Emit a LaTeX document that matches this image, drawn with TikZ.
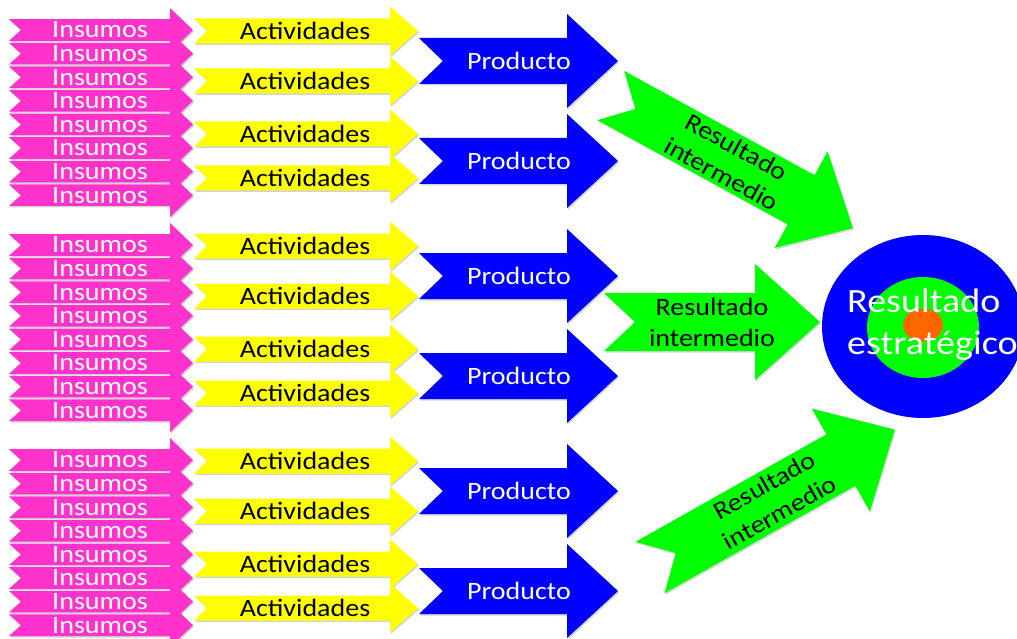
\documentclass[tikz,border=0pt]{standalone}
\usepackage{fontspec}
\setmainfont{Carlito}
\usetikzlibrary{shadows}

\definecolor{rosa}{RGB}{255,51,204}
\definecolor{amarillo}{RGB}{255,255,0}
\definecolor{azul}{RGB}{0,0,255}
\definecolor{verde}{RGB}{0,255,0}
\definecolor{naranja}{RGB}{255,102,0}

% estilo, x izquierda, y centro, x cabeza, x punta, medio cuerpo, media cabeza, muesca
\newcommand{\flecha}[8]{%
	\fill[#1] (#2,#3-#6) -- (#4,#3-#6) -- (#4,#3-#7) -- (#5,#3)
	-- (#4,#3+#7) -- (#4,#3+#6) -- (#2,#3+#6) -- (#2+#8,#3) -- cycle;}

\begin{document}
\begin{tikzpicture}[x=1pt, y=-1pt,
	sombra/.style={drop shadow={shadow xshift=1pt, shadow yshift=-1.5pt, opacity=.35}},
	texto/.style={inner sep=0pt, font=\fontsize{25}{31}\selectfont, xscale=1.12, transform shape},
	grande/.style={inner sep=0pt, font=\fontsize{34}{42}\selectfont, xscale=1.12, transform shape}]
	
	\useasboundingbox (0,0) rectangle (1017,639);
	\clip (0,0) rectangle (1017,639);
	
	% Insumos, actividades y productos
	\foreach \g in {0,1,2}{
		\begin{scope}[shift={(0,215*\g)}]
			\foreach \i in {0,...,7}{
				\pgfmathsetmacro{\yy}{30+23.6*\i}
				\flecha{rosa, sombra}{9}{\yy}{170}{193}{10.8}{22}{12}
				\node[texto, white] (ins-\g-\i) at (100,\yy) {Insumos};
			}
			\foreach \yy [count=\k] in {31,81,134,178}{
				\flecha{amarillo, sombra}{194}{\yy}{390}{418}{12.5}{24.5}{13}
				\node[texto] (act-\g-\k) at (305,\yy) {Actividades};
			}
			\foreach \yy [count=\k] in {61,161}{
				\flecha{azul, sombra}{419}{\yy}{567}{618}{23}{47}{24}
				\node[texto, white] (prod-\g-\k) at (519,\yy) {Producto};
			}
		\end{scope}
	}
	
	% Resultados intermedios
	\begin{scope}[shift={(610.8,95.5)}, rotate=-28.7]
		\flecha{verde, sombra}{0}{0}{217}{276}{28}{55}{28}
		\node[texto, align=center] (ri-1) at (135,0) {Resultado\\intermedio};
	\end{scope}
	
	\flecha{verde, sombra}{604}{322}{755}{820}{29}{58}{31}
	\node[texto, align=center] (ri-2) at (712,322.5) {Resultado\\intermedio};
	
	\begin{scope}[shift={(650,567.5)}, rotate=29.4]
		\flecha{verde, sombra}{0}{0}{219}{281}{29.5}{59}{29.5}
		\node[texto, align=center] (ri-3) at (140,0) {Resultado\\intermedio};
	\end{scope}
	
	% Diana
	\fill[azul] (923,326.5) ellipse [x radius=101, y radius=91.5];
	\fill[verde] (923,327.5) ellipse [x radius=56, y radius=50.5];
	\fill[naranja] (923,325) ellipse [x radius=20, y radius=16.5];
	\node[grande, white, anchor=west, align=left] (estrategico) at (847,325) {Resultado\\estratégico};
	
\end{tikzpicture}
\end{document}
